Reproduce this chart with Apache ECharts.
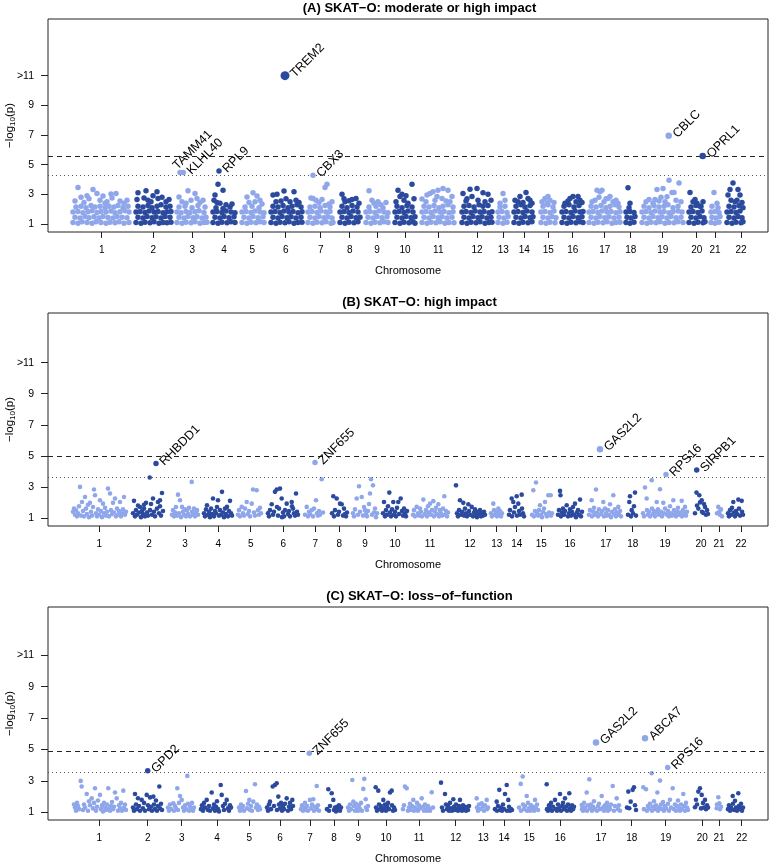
<!DOCTYPE html>
<html><head><meta charset="utf-8">
<script src="https://cdn.jsdelivr.net/npm/echarts@6/dist/echarts.min.js"></script>
<style>html,body{margin:0;padding:0;background:#fff}#c{width:770px;height:863px}</style>
</head><body><div id="c"></div>
<script>
const chromosomes = ['1','2','3','4','5','6','7','8','9','10','11','12','13','14','15','16','17','18','19','20','21','22'];
const panelTitles = ['(A) SKAT\u2212O: moderate or high impact','(B) SKAT\u2212O: high impact','(C) SKAT\u2212O: loss\u2212of\u2212function'];
const yTickValues = [1,3,5,7,9,11];
const tickPosA = [53.7,105.3,144.3,176,204.3,237.7,272.7,301.7,329,357,390.3,429,455.3,476.3,500.3,524.7,556.7,582.7,614.7,648.7,667,693];
const tickPosB = [51.3,101,137,170.3,202.7,235.3,267.3,291.3,317,347,382,422,448.7,468.7,493.3,522,557.7,584.7,617,653,671,693];
const tickPosC = [51.3,99.7,133.7,169,201.3,232,262,286,310.3,338,371,407.7,435.3,456,481.3,512.3,553,583.7,617.7,654.3,671,693.7];
const dashedLines = [5.58,5.0,4.87];
const dottedLines = [4.26,3.65,3.57];
const yRanges = [[0.46,14.82],[0.48,14.2],[0.51,14.08]];

// labelled genes: [gene, chromosome, position, -log10(p)]
const hitsA = [['TAMM41',3,132,4.47],['KLHL40',3,135.3,4.47],['RPL9',4,171,4.58],['TREM2',6,237,11],['CBX3',7,265,4.29],['CBLC',19,620.7,6.95],['OPRL1',20,654.7,5.58]];
const hitsB = [['RHBDD1',2,108,4.5],['ZNF655',7,267,4.57],['GAS2L2',17,552,5.43],['RPS16',19,618,3.8],['SIRPB1',20,648.7,4.08]];
const hitsC = [['GPD2',2,99.7,3.64],['ZNF655',7,261.3,4.77],['GAS2L2',17,548,5.45],['ABCA7',19,597,5.72],['RPS16',19,619.7,3.85]];

// per chromosome: flat [position, -log10(p), ...]
const chrPointsA = [
[25,1.1,30,1.05,34,1.15,39,1.1,44,1.05,48,1.15,53,1.1,58,1.05,62,1.12,67,1.08,71,1.15,76,1.05,81,1.1,27,1.45,32,1.4,37,1.5,41,1.42,46,1.48,51,1.4,55,1.5,60,1.44,65,1.4,69,1.5,74,1.45,79,1.42,25,1.8,30,1.85,35,1.75,40,1.82,44,1.9,49,1.78,53,1.85,58,1.8,63,1.88,67,1.75,72,1.82,77,1.9,81,1.8,28,2.15,33,2.2,38,2.1,43,2.25,47,2.15,52,2.2,57,2.1,61,2.2,66,2.15,70,2.25,75,2.1,80,2.2,27,2.55,30,3.46,33,2.8,36,2.45,41,2.7,45,3.33,49,3.06,52,2.6,55,2.88,59,2.5,63,3.02,64,2.75,68,3.06,72,2.55,76,2.4,79,2.6,39,2.9,57,2.4],
[88,1.1,93,1.05,97,1.12,102,1.08,106,1.15,111,1.05,115,1.1,119,1.08,123,1.12,90,1.45,95,1.4,99,1.5,104,1.42,108,1.48,113,1.4,117,1.5,122,1.45,88,1.8,92,1.85,97,1.78,101,1.88,106,1.8,110,1.85,115,1.75,119,1.82,123,1.85,90,2.2,95,2.15,100,2.25,104,2.1,109,2.2,113,2.3,118,2.15,122,2.2,89,2.65,90,3.1,98,3.24,96,2.75,103,2.5,105,2.9,109,3.17,110,2.72,114,2.8,118,2.5,121,2.65,100,2.6],
[129,1.1,134,1.05,138,1.12,143,1.08,147,1.15,152,1.05,156,1.1,159,1.12,131,1.45,136,1.4,140,1.5,145,1.42,149,1.48,154,1.4,158,1.45,129,1.8,133,1.75,138,1.85,142,1.78,147,1.82,151,1.9,156,1.78,131,2.15,137,2.2,144,2.1,150,2.25,157,2.15,131,2.82,134,2.5,140,3.24,143,2.6,147,3.06,149,2.72,152,2.45,155,2.6,138,2.4],
[165,1.1,170,1.05,174,1.12,179,1.08,183,1.15,187,1.1,167,1.45,172,1.4,176,1.5,181,1.42,186,1.48,165,1.8,169,1.85,174,1.78,178,1.88,183,1.8,187,1.75,168,2.1,175,2.05,182,2.15,166,2.6,167,2.95,170,3.68,175,3.28,172,2.4,178,2.3,184,2.35,169,2.45],
[194,1.1,199,1.05,203,1.12,208,1.08,212,1.15,216,1.1,196,1.45,201,1.4,205,1.5,210,1.42,215,1.48,194,1.8,198,1.85,203,1.78,207,1.88,212,1.8,216,1.75,197,2.15,204,2.2,211,2.1,199,2.82,205,3.1,209,2.88,212,2.6,201,2.45,207,2.5,214,2.35],
[223,1.1,228,1.05,232,1.12,237,1.08,241,1.15,246,1.05,250,1.1,254,1.12,225,1.45,230,1.4,234,1.5,239,1.42,243,1.48,248,1.4,253,1.45,223,1.8,227,1.85,232,1.78,236,1.88,241,1.8,245,1.85,250,1.75,254,1.82,225,2.2,230,2.15,235,2.25,240,2.1,244,2.2,249,2.3,253,2.15,225,2.95,229,3.0,233,2.55,236,3.23,238,2.7,242,2.5,246,3.17,248,2.6,251,2.45,228,2.5],
[260,1.1,265,1.05,269,1.12,274,1.08,278,1.15,283,1.05,285,1.1,262,1.45,267,1.4,271,1.5,276,1.42,280,1.48,284,1.4,260,1.8,264,1.85,269,1.78,273,1.88,278,1.8,282,1.85,262,2.15,267,2.2,272,2.1,277,2.25,282,2.15,263,2.75,265,2.72,268,2.6,271,2.45,274,2.65,277,3.46,279,3.68,281,2.35,284,2.5],
[292,1.1,297,1.05,301,1.12,306,1.08,310,1.15,294,1.45,299,1.4,303,1.5,308,1.42,312,1.45,292,1.8,296,1.85,301,1.78,305,1.88,310,1.8,294,2.2,299,2.1,304,2.25,309,2.15,294,3.0,297,2.5,301,2.57,304,2.65,308,2.72,311,2.4,296,2.7],
[318,1.1,323,1.05,327,1.12,332,1.08,336,1.15,340,1.1,320,1.45,325,1.4,329,1.5,334,1.42,339,1.48,318,1.8,322,1.85,327,1.78,331,1.88,336,1.8,340,1.75,321,2.15,328,2.2,335,2.1,321,3.24,324,2.6,330,2.5,333,2.3,326,2.4,338,2.45],
[347,1.1,352,1.05,356,1.12,361,1.08,365,1.15,367,1.05,349,1.45,354,1.4,358,1.5,363,1.42,367,1.48,347,1.8,351,1.85,356,1.78,360,1.88,365,1.8,349,2.2,354,2.1,359,2.25,364,2.15,350,3.28,352,2.85,354,3.0,356,2.6,358,2.9,360,2.4,364,3.68,366,2.7,348,2.5],
[374,1.1,379,1.05,383,1.12,388,1.08,392,1.15,397,1.05,401,1.1,406,1.08,376,1.45,381,1.4,385,1.5,390,1.42,394,1.48,399,1.4,404,1.45,374,1.8,378,1.85,383,1.78,387,1.88,392,1.8,396,1.85,401,1.75,405,1.82,376,2.2,381,2.15,386,2.25,391,2.1,395,2.2,400,2.3,405,2.15,374,2.68,379,2.95,382,3.06,385,3.17,389,2.85,390,3.28,394,2.72,395,3.39,398,2.55,400,3.28,404,2.85,378,2.5,387,2.6,402,2.5],
[414,1.1,419,1.05,423,1.12,428,1.08,432,1.15,437,1.05,441,1.1,444,1.12,416,1.45,421,1.4,425,1.5,430,1.42,434,1.48,439,1.4,443,1.45,414,1.8,418,1.85,423,1.78,427,1.88,432,1.8,436,1.85,441,1.75,444,1.82,416,2.2,421,2.25,426,2.15,431,2.3,435,2.2,440,2.25,415,3.06,418,2.55,422,3.35,424,2.85,429,3.39,430,2.6,435,3.1,437,2.5,440,3.0,443,2.6,419,2.7],
[450,1.1,455,1.05,459,1.12,451,1.45,456,1.4,460,1.5,450,1.8,454,1.85,459,1.78,452,2.15,457,2.2,455,3.06,457,2.6,452,2.4],
[466,1.1,471,1.05,475,1.12,480,1.08,484,1.15,468,1.45,473,1.4,477,1.5,482,1.42,485,1.48,466,1.8,470,1.85,475,1.78,479,1.88,484,1.8,468,2.2,473,2.3,477,2.15,482,2.25,467,2.6,470,2.5,472,2.85,475,2.45,478,3.13,480,2.72,482,2.6,484,2.4],
[493,1.1,498,1.05,502,1.12,507,1.08,495,1.45,500,1.4,504,1.5,508,1.42,493,1.8,497,1.85,502,1.78,506,1.88,495,2.2,500,2.3,505,2.15,494,2.5,497,2.72,500,2.85,502,2.6,506,2.45,499,2.4],
[514,1.1,519,1.05,523,1.12,528,1.08,532,1.15,535,1.1,516,1.45,521,1.4,525,1.5,530,1.42,534,1.48,514,1.8,518,1.85,523,1.78,527,1.88,532,1.8,535,1.85,516,2.2,521,2.3,526,2.15,531,2.25,517,2.4,520,2.55,522,2.72,525,2.85,528,2.5,530,2.85,532,2.6,534,2.45],
[541,1.1,546,1.05,550,1.12,555,1.08,559,1.15,564,1.05,568,1.1,572,1.12,543,1.45,548,1.4,552,1.5,557,1.42,561,1.48,566,1.4,571,1.45,541,1.8,545,1.85,550,1.78,554,1.88,559,1.8,563,1.85,568,1.75,572,1.82,543,2.2,548,2.15,553,2.25,558,2.1,562,2.2,567,2.3,571,2.15,544,2.5,547,2.6,549,3.28,551,2.8,552,3.17,554,3.28,556,2.5,558,2.7,560,2.72,562,2.85,565,2.5,568,2.6,570,2.4],
[578,1.1,582,1.05,586,1.12,579,1.45,583,1.4,587,1.5,578,1.8,582,1.85,586,1.78,580,3.44,582,2.4,581,2.1],
[594,1.1,599,1.05,603,1.12,608,1.08,612,1.15,617,1.05,621,1.1,626,1.08,630,1.15,635,1.1,596,1.45,601,1.4,605,1.5,610,1.42,614,1.48,619,1.4,623,1.5,628,1.42,633,1.45,594,1.8,598,1.85,603,1.78,607,1.88,612,1.8,616,1.85,621,1.75,625,1.82,630,1.88,634,1.8,596,2.2,601,2.1,606,2.25,611,2.15,616,2.2,620,2.3,625,2.1,630,2.2,598,2.5,601,2.65,605,2.4,607,2.65,609,3.33,611,2.55,613,2.8,615,3.4,617,2.5,619,2.83,621,3.95,624,3.13,626,3.13,628,2.6,631,3.77,633,2.5],
[641,1.1,646,1.05,650,1.12,655,1.08,657,1.15,643,1.45,648,1.4,652,1.5,656,1.42,641,1.8,645,1.85,650,1.78,654,1.88,643,2.15,648,2.25,653,2.2,642,3.13,645,2.5,647,2.65,652,2.2,655,2.5,649,2.4],
[663,1.1,667,1.05,671,1.12,664,1.45,668,1.4,672,1.5,663,1.8,667,1.85,671,1.78,666,3.13,669,2.4,670,2.1,664,2.2],
[679,1.1,684,1.05,688,1.12,693,1.08,695,1.15,681,1.45,686,1.4,690,1.5,694,1.42,679,1.8,683,1.85,688,1.78,692,1.88,681,2.2,686,2.15,691,2.25,695,2.1,680,2.95,682,3.32,685,3.77,687,2.5,689,2.6,690,3.32,692,2.95,694,2.45,683,2.6]
];

const chrPointsB = [
[25,1.4,26,1.6,27,1.2,28,1.5,29,1.1,30,1.3,31,1.75,32,3.0,33,1.15,34,2.03,35,1.45,36,1.1,37,2.35,38,1.6,39,1.25,40,1.85,41,1.05,42,1.97,43,1.4,44,1.15,45,1.7,46,2.83,47,2.46,48,1.3,49,1.1,50,1.55,51,1.2,52,2.14,53,1.45,54,1.05,55,1.92,56,1.3,57,1.65,58,1.15,59,1.4,60,2.89,61,1.1,62,2.57,63,1.5,64,1.25,65,1.97,66,1.35,67,2.25,68,1.1,69,1.6,70,1.2,71,1.45,72,2.03,73,1.1,74,1.3,75,1.55,76,2.35,77,1.2,78,1.4],
[85,1.3,86,2.1,87,1.1,88,1.5,89,1.2,90,1.8,91,1.35,92,1.7,93,1.05,94,1.45,95,1.25,96,1.6,97,1.1,98,1.97,99,1.35,100,1.15,101.7,3.6,102,1.5,103,1.9,104,1.2,105,2.25,106,1.4,107,1.1,109,1.6,110,2.03,111,1.3,112,2.14,113,1.15,114,2.61,115,1.45,112,1.75,96,1.85],
[124,1.2,125,1.5,126,1.1,127,1.35,128,1.7,129,1.15,130,2.5,131,1.3,132,2.14,133,1.05,134,1.71,135,1.4,136,1.2,137,1.55,138,1.1,139,1.5,140,1.25,141,1.65,142,1.1,143.7,3.32,144,1.4,145,1.2,146,1.6,147,1.1,148,1.35,149,1.5,150,1.2],
[156,1.3,157,1.1,158,1.55,159,1.82,160,1.2,161,1.4,162,1.05,163,1.6,164,1.25,165,2.25,166,1.1,167,1.45,168,1.3,169,1.7,170,2.14,171,1.15,172,1.5,173,1.2,174,2.68,175,1.35,176,1.05,177,1.6,178,1.25,179,1.71,180,1.1,181,1.45,182,2.1,183,1.3,184,1.15],
[190,1.2,191,1.5,192,1.1,193.7,1.71,195,1.3,196,1.15,197,1.6,198.7,2.03,200,1.25,201,1.45,202,1.1,203.7,1.92,205,2.83,206,1.35,207,1.15,208.7,2.78,210,1.5,211,1.2,212,1.65,213,1.3],
[220,1.3,221,1.1,222,1.5,223.7,1.88,225,1.2,226,1.4,227,2.68,228.7,2.83,230,1.15,231,1.6,232,2.89,233.7,2.25,235,1.35,236,1.1,237,1.5,238.7,1.92,240,1.25,241,1.45,242,1.1,243.7,2.03,245,1.6,246,1.3,247,1.15,248,2.57,249,1.4,250,1.2,229,1.7,234,1.05,244,1.75],
[257,1.2,258.7,1.71,260,1.1,261,1.4,262,1.25,263.7,1.5,265,1.1,266,1.6,268,2.14,269,1.3,270,1.15,271,1.45,272,1.2,273.7,3.49,275,1.35],
[284,1.3,285.3,2.4,286,1.1,287,1.5,288.7,2.25,290,1.2,291,1.4,292,1.92,293.7,1.88,295,1.15,296,1.6,297,1.25,298,1.1,299,1.35],
[305,1.3,306,1.1,307,1.55,308.7,2.25,310,1.2,311,3.04,312,1.4,313.7,2.35,315,1.15,316,1.7,317,1.5,318,1.25,319,1.1,320,1.45,321,1.9,322,2.57,323,3.49,324,1.2,325,3.1,326,1.35,327,1.6,328,1.05,329,1.3],
[335,1.3,336,2.03,337,1.1,338,1.5,339,1.2,340,1.75,341.3,2.63,342,1.35,343,1.1,344,1.55,345.3,2.03,346,1.2,347,1.4,348,1.1,349,1.65,350.3,2.03,351,1.25,352.7,2.25,354,1.45,355,1.15,356,1.6,357,1.3,358,1.1,359,1.45],
[365,1.2,366,1.5,367,1.1,368.7,1.71,370,1.3,371,1.15,372,1.6,373,1.4,374,1.1,375.3,2.18,377,1.25,378,1.5,379,1.1,380,1.75,381,1.35,382,1.92,383,1.2,384,1.5,385.3,2.08,386,1.1,387,1.4,388,1.65,389,1.25,390.3,1.88,391,1.1,392,1.5,393,1.3,394,1.15,395,1.6,396.3,2.4,397,1.2,398,1.45,399,1.1,400,1.35],
[408,3.1,409,1.3,410,1.1,411,1.5,412,2.14,413,1.2,414,1.4,415.3,1.97,416,1.15,417,1.6,418,1.3,419,1.1,420.3,1.88,421,1.45,422,1.2,423.7,1.71,425,1.1,426,1.35,427,1.55,428,1.2,429,1.05,430,1.4,431,1.25,432,1.5,433,1.1,434,1.3,435,1.15,436,1.4,437,1.2],
[443,1.3,444,1.1,445.3,1.92,446,1.5,447,1.2,448,1.4,449,1.1,450.3,1.6,451,1.25,452,1.45,453,1.1,454,1.3],
[461,1.2,462,1.5,463.7,2.25,464,1.1,465.3,2.03,466,1.35,467,1.7,468.7,2.4,469,1.15,470.3,1.92,471,1.45,472,1.2,473.7,2.5,474,1.6,475,1.3,476,1.1],
[484,1.2,485.3,2.78,486,1.1,487,1.45,488,3.28,489,1.3,490,1.15,491,1.5,492,1.82,493,1.2,494,1.05,495,1.4,496,1.6,497,2.03,498,1.25,499,1.1,500.3,2.46,501,1.35,502.7,2.46,503,1.15,504,1.3],
[510,1.2,511,1.5,512,2.74,512.5,2.46,513,1.1,514,1.35,515,1.6,516,1.2,517,1.45,518.7,1.82,520,1.1,521,1.3,522,1.55,523,1.15,524,1.4,525,1.7,526,1.2,527,1.92,528,1.05,529,1.35,530,1.5,531,1.2,532,2.18,533,1.1,534,1.4],
[541,1.2,542,1.5,543.7,2.14,544,1.1,545,1.4,546,1.65,547,1.2,548,2.83,549,1.35,550,1.1,551,1.55,553,1.25,554,1.45,555.3,2.03,556,1.1,557,1.6,558,1.3,559,1.15,560,1.5,561,1.2,562,1.88,563,1.05,564,1.4,565.3,2.46,566,1.25,567,1.55,568,1.1,569,1.35,570.3,1.71,571,1.2,572,1.45,573,1.1],
[580,1.2,581.3,2.03,582,2.4,583,1.1,583.7,1.5,585,1.3,586,1.75,587,2.63,588,1.15],
[595,1.3,596,1.1,597,2.96,598.7,2.25,599,1.5,600,1.2,601,1.4,602,1.1,603.7,3.43,604,1.6,605,1.25,606,1.45,607,1.1,608.7,2.03,609,1.35,610,1.55,611,1.2,612,2.85,613,1.4,614,1.1,615.3,1.97,616,1.3,617,1.6,619,1.2,620,1.45,621,1.1,622,1.75,623,1.3,624,1.15,625.3,2.14,626,1.5,627,1.25,628,1.1,629,1.4,630,1.65,631,1.2,632,1.35,633.7,2.1,634,1.1,635,1.5,636,1.25,637,1.71,638,1.15,639,1.4],
[647,1.3,648.5,2.63,649,1.8,650.3,1.6,651.3,2.46,652,2.0,653.7,2.14,654,1.4,655.3,1.32,656,1.9,657,1.71,658,1.2,659,1.5,660,1.25],
[669,1.3,670.3,1.71,671.3,1.39,672,1.2,673,1.55,674,1.1],
[680,1.3,681,1.1,682,1.5,683,1.2,684,1.65,685.3,2.03,686,1.35,687,1.1,688,1.45,689,1.25,690.3,2.18,691,1.6,692,1.15,693.7,2.1,694,1.4,695,1.2]
];

const chrPointsC = [
[26,1.5,27,1.3,28,1.1,29,1.6,30,1.4,31,1.2,32.7,3.0,33.7,2.64,35,1.15,36,1.5,37,1.3,38.7,2.17,40,1.1,41,1.7,42,1.45,43.7,1.89,45,1.25,46,1.6,47,2.53,48,1.1,49,1.35,50,1.75,52,2.11,53,1.2,54,1.45,55,1.05,56,1.6,57,1.3,58,1.15,59,1.5,60.3,2.53,61,1.25,62,1.1,63,1.4,64,1.65,65,1.2,66,1.35,67,2.26,68.7,1.89,70,1.1,71,1.45,72,1.25,73,1.6,74,1.1,75.3,2.38,76,1.3,77,1.5,78,1.15],
[85,1.3,86,1.1,87,2.17,88,1.5,89,1.2,90,1.9,91,1.4,92,1.1,93.7,1.79,95,1.25,96,1.6,97,1.1,98.7,2.11,100,1.45,101,1.2,102,1.95,103,1.35,104,1.1,105.3,2.0,106,1.5,107,1.2,108,1.75,109,1.1,110,1.4,111.3,2.64,112,1.25,113,1.55,114,1.15],
[120,1.3,121,1.1,122,1.5,123,1.2,125.3,1.57,126,1.1,127,1.4,128,1.25,129.3,2.53,130,1.15,131,1.6,132,2.04,133.7,1.79,135,1.3,136,1.1,137,1.45,138,1.2,139.3,3.32,140,1.55,141,1.1,142,1.35,143,1.2,144,1.6,145,1.1,146,1.3],
[153,1.2,154,1.45,155,1.1,156,1.6,157,1.3,158.7,1.79,160,1.15,161,1.4,162,1.1,163.7,2.26,165,1.25,166,1.5,167,1.1,168,1.35,169,1.7,170,1.2,171,1.05,172.7,2.74,173.7,2.11,175,1.4,176,1.15,177,1.55,178.7,1.79,180,1.25,181,1.1,182,1.45,183,1.3],
[191,1.3,192,1.1,193,1.5,194,1.2,195,1.4,196,1.1,198,2.36,199,1.25,200,1.55,201.3,1.79,202,1.15,203,1.4,204,1.1,205.3,1.68,207,2.79,208,1.3,209,1.5,210,1.15,211,1.35,212,1.2],
[219,1.3,220,1.1,221,1.5,222,1.68,223,1.2,224.7,2.64,226,1.4,227,2.74,228.7,2.85,229,1.15,230.3,2.0,231,1.5,232,1.25,233,1.6,234,1.1,235,1.4,236,1.2,237,1.55,238.7,1.89,240,1.1,241,1.35,242,1.6,243,1.2,244.3,1.79,245,1.4],
[253,1.2,254,1.45,255,1.1,256,1.3,257,1.6,258,1.15,259,1.4,260,1.1,262,1.79,263,1.25,264,1.5,265.3,1.83,266,1.1,267,1.35,268.7,2.68,269,1.2,270,1.45,271,1.1],
[279,1.2,280.3,2.47,281,1.1,282,1.4,283.7,2.21,285.3,1.79,286,1.15,287,1.3,288,1.05,289,1.35,290,1.2,291,1.45,292,1.1,293,1.3],
[300,1.3,301,1.1,302,1.5,303,1.2,304.3,3.06,305.3,1.68,306,1.4,307,1.1,308,1.55,309,1.25,310,1.1,311,1.45,312,1.2,313,1.6,314,1.1,315.3,2.49,316.3,3.13,317.7,1.83,318,1.3,319,1.15,320,1.4],
[327.7,2.6,328,1.3,329,1.1,330.3,2.38,331,1.5,332,1.2,333,1.4,334,1.1,335.3,1.79,336,1.25,337,1.5,338,1.1,339,1.35,340,1.6,341,1.2,342,2.26,343.7,2.38,344,1.45,345,1.1,346,1.3,347,1.15],
[355,1.2,356,1.45,357,2.64,358.7,2.53,360,1.1,361,1.3,362,1.55,363,1.15,364,1.4,365.3,1.79,366,1.1,367,1.3,368,1.2,369,1.6,370,1.1,371,1.45,372,1.25,373.7,1.89,375,1.35,376,1.1,377,1.5,378,1.2,379,1.1,380,1.4,381,1.25,382,1.1,383.7,2.28,385,1.3],
[393,2.89,394,1.3,395,1.1,397,2.17,398,1.5,399,1.2,400,1.4,401,1.1,402,1.6,403,1.25,404,1.1,405.3,1.83,406,1.35,407,1.15,408,1.5,409,1.2,410,1.1,411,1.4,412,1.79,413,1.25,414,1.1,415,1.45,416,1.2,417,1.35,418,1.1,419,1.3,420,1.15,421,1.4],
[428.7,1.89,429,1.3,430,1.1,431,1.5,432,1.2,433.7,1.57,435,1.35,436,1.1,437,1.45,438.7,1.79,439,1.2,440,1.3],
[447,1.2,448.7,1.68,449,1.1,450,1.4,451.3,2.43,452,1.15,453,1.3,454,1.1,455,1.5,456,1.2,457,2.17,458.7,2.74,459,1.1,460.3,1.79,461,1.35,462,1.1,463,1.2,464,1.15],
[471,1.3,472.7,2.81,473,1.1,474.7,3.28,475,1.5,476,1.2,477,1.4,478.7,2.04,479,1.1,480,1.6,481,1.25,482,1.1,483,1.45,484,1.2,485,1.35,486,1.1,487,1.79,488,1.25,489,1.5,490,1.15],
[498.7,2.79,499,1.2,500,1.1,501,1.45,502,1.25,503,1.6,504,1.1,505,1.35,507,1.79,508,1.2,509,1.1,510,1.5,511,1.25,512,2.17,513,1.1,514,1.4,515,1.6,516,1.2,517,1.89,518,1.35,519,1.1,520,1.5,521.3,2.21,522,1.25,523,1.1,524,1.45,525,1.2,526,1.35],
[533.7,1.47,534,1.2,535,1.1,536,1.6,537,1.3,538.7,2.26,539,1.1,540,1.45,541.3,3.1,542,1.25,543,1.5,544,1.1,545,1.35,546,1.7,547,1.2,549,1.1,550,1.4,551,1.55,552,1.2,553.7,2.04,555,1.3,556,1.1,557,1.45,558,1.25,559,1.6,560,1.1,561,1.35,562,1.2,563,1.5,564.7,2.68,566,1.1,567,1.4,568.7,1.89,570,1.2,571,1.45,572,1.1],
[579,1.3,580.3,2.32,581.3,1.26,582.7,1.68,584.7,2.43,586,2.6,587,1.45,588,1.15],
[595.3,2.6,596,1.2,598,2.47,599,1.1,600,1.4,601,1.25,602,1.55,603.7,3.49,604,1.1,605,1.35,606,1.7,607,1.2,608,1.45,609.3,2.26,610,1.1,611,1.3,612,3.02,613,1.5,614,1.2,615,1.65,616,1.1,617,1.4,618,1.25,620,1.55,621,1.1,622,1.8,623,1.3,624.7,2.53,626,1.2,627,1.5,628,1.1,629,1.4,630,1.75,631,1.25,632,1.1,633,1.5,634,1.2,635.3,2.17,636,1.4,637,1.1,638,1.6,639,1.3,640,1.15],
[647,1.32,648,1.8,649,1.5,650.3,2.32,652,2.53,653,1.25,653.7,2.11,655,1.6,656,1.3,657,1.79,658,1.2,659,1.45,660,1.3],
[668.7,1.26,669,1.5,670.3,1.96,671.3,1.57,672,1.2,673,1.35],
[680,1.2,681,1.45,682,1.1,683,1.3,684.7,2.04,685,1.55,686,1.15,687,1.74,688,1.3,689,1.1,690.3,2.21,691,1.4,692,1.2,693,1.55,694,1.1,695,1.3]
];

// ---------- styling / assembly ----------
const LIGHT = '#8fa7ea', DARK = '#2b4a9e';
const FONT = '"Liberation Sans", Arial, Helvetica, sans-serif';
const GRID_TOP = [19, 313, 607], GRID_H = 213;
const TITLE_TOP = [2, 296, 590];
const labelOffset = {'0:TAMM41': [-4, -11]};

const panels = [
  {pts: chrPointsA, hits: hitsA, ticks: tickPosA, size: 5.5},
  {pts: chrPointsB, hits: hitsB, ticks: tickPosB, size: 4.6},
  {pts: chrPointsC, hits: hitsC, ticks: tickPosC, size: 4.6}
];

const option = {
  animation: false,
  backgroundColor: '#fff',
  textStyle: {fontFamily: FONT},
  title: [], grid: [], xAxis: [], yAxis: [], series: []
};

panels.forEach((p, k) => {
  option.title.push({
    text: panelTitles[k], left: 419.5, top: TITLE_TOP[k], textAlign: 'center', padding: 0,
    textStyle: {fontSize: 13, fontWeight: 'bold', color: '#000', fontFamily: FONT}
  });
  option.grid.push({left: 48, width: 720, top: GRID_TOP[k], height: GRID_H, show: true,
    containLabel: false, outerBoundsMode: 'none',
    borderColor: '#222', borderWidth: 1, backgroundColor: 'transparent'});
  const ticks = p.ticks;
  option.xAxis.push({
    gridIndex: k, type: 'value', min: 0, max: 720,
    axisLine: {show: false}, splitLine: {show: false},
    axisTick: {show: true, length: 6, customValues: ticks, lineStyle: {color: '#222'}},
    axisLabel: {customValues: ticks, margin: 13, fontSize: 10, color: '#000',
      formatter: v => { let bi = 0, bd = 1e9; ticks.forEach((t, i) => { const d = Math.abs(t - v); if (d < bd) { bd = d; bi = i; } }); return chromosomes[bi]; }},
    name: 'Chromosome', nameLocation: 'middle', nameGap: 33, nameMoveOverlap: false,
    nameTextStyle: {fontSize: 11, color: '#000'}
  });
  option.yAxis.push({
    gridIndex: k, type: 'value', min: yRanges[k][0], max: yRanges[k][1],
    axisLine: {show: false}, splitLine: {show: false},
    axisTick: {show: true, length: 7, customValues: yTickValues, lineStyle: {color: '#222'}},
    axisLabel: {customValues: yTickValues, margin: 14, fontSize: 10.5, color: '#000',
      formatter: v => (v === 11 ? '>11' : String(v))},
    name: '{n|\u2212log}{s|10}{n|(p)}', nameLocation: 'middle', nameGap: 31, nameRotate: 90,
    nameMoveOverlap: false,
    nameTextStyle: {color: '#000', rich: {n: {fontSize: 11.5, color: '#000'}, s: {fontSize: 8, color: '#000', padding: [6, 0, 0, 0]}}}
  });
  const light = [], dark = [];
  p.pts.forEach((flat, i) => {
    for (let j = 0; j < flat.length; j += 2) (i % 2 === 0 ? light : dark).push([flat[j], flat[j + 1]]);
  });
  option.series.push({
    type: 'scatter', xAxisIndex: k, yAxisIndex: k, data: light, symbolSize: p.size,
    itemStyle: {color: LIGHT, opacity: 1}, silent: true, z: 2,
    markLine: {silent: true, symbol: 'none', label: {show: false}, animation: false,
      data: [
        {yAxis: dashedLines[k], lineStyle: {type: [5, 4], color: '#222', width: 1}},
        {yAxis: dottedLines[k], lineStyle: {type: [1, 3], color: '#555', width: 1}}
      ]}
  });
  option.series.push({
    type: 'scatter', xAxisIndex: k, yAxisIndex: k, data: dark, symbolSize: p.size,
    itemStyle: {color: DARK, opacity: 1}, silent: true, z: 3
  });
  option.series.push({
    type: 'scatter', xAxisIndex: k, yAxisIndex: k, silent: true, z: 5,
    data: p.hits.map(h => ({
      name: h[0], value: [h[2], h[3]],
      symbolSize: h[3] >= 10 ? 9 : (h[3] >= 5.3 ? 6.5 : 5.5),
      itemStyle: {color: h[1] % 2 === 1 ? LIGHT : DARK, opacity: 1},
      label: {show: true, formatter: h[0], position: 'right', distance: 3, rotate: 45,
        align: 'left', verticalAlign: 'middle', fontSize: 12.5, color: '#000',
        offset: labelOffset[k + ':' + h[0]] || [0, 0]}
    }))
  });
});

const chart = echarts.init(document.getElementById('c'), null, {renderer: 'canvas'});
chart.setOption(option);
</script>
</body></html>
